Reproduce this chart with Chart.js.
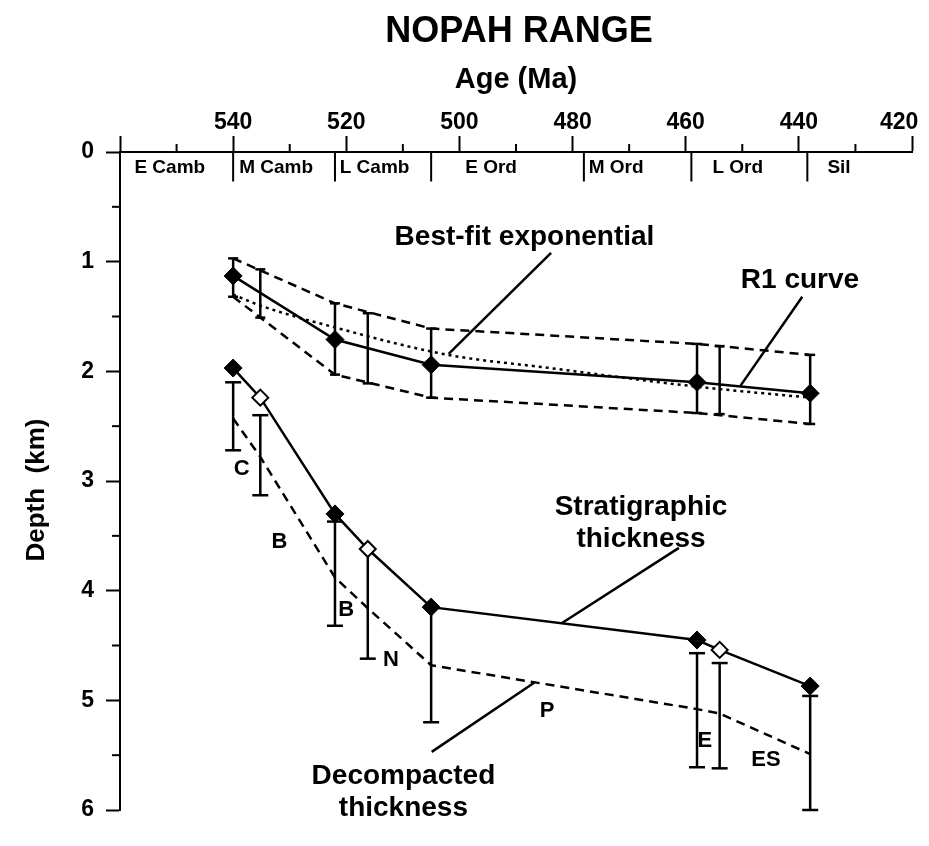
<!DOCTYPE html>
<html><head><meta charset="utf-8">
<script src="https://cdn.jsdelivr.net/npm/chart.js@4.4.1/dist/chart.umd.min.js"></script>
<style>html,body{margin:0;padding:0;background:#fff;} canvas{display:block;}</style>
</head><body>
<canvas id="c" width="929" height="846"></canvas>
<script>
// ---------- data ----------
const sampleAges      = [540, 535.2, 522, 516.2, 505, 458, 454, 438];
const r1Ages          = [540, 522, 505, 458, 438];
const r1Depth         = [1.13, 1.71, 1.94, 2.10, 2.20];
const envTopDepth     = [0.97, 1.38, 1.61, 1.75, 1.85];
const envBottomDepth  = [1.32, 2.03, 2.24, 2.38, 2.48];
const r1BarTop        = [0.97, 1.07, 1.38, 1.47, 1.61, 1.75, 1.77, 1.85];
const r1BarBottom     = [1.32, 1.51, 2.03, 2.11, 2.24, 2.38, 2.39, 2.48];
const bestFitAges     = [540, 535.2, 522, 502, 484, 458, 438];
const bestFitDepth    = [1.30, 1.40, 1.60, 1.85, 1.97, 2.14, 2.24];
const stratDepth      = [1.97, 2.24, 3.30, 3.62, 4.15, 4.45, 4.54, 4.87];
const stratOpen       = [false, true, false, true, false, false, true, false];
const stratBarTop     = [2.10, 2.40, 3.37, 3.66, 4.15, 4.57, 4.66, 4.96];
const stratBarTopCap  = [true, true, true, false, false, true, true, true];
const stratBarBottom  = [2.72, 3.13, 4.32, 4.62, 5.20, 5.61, 5.62, 6.00];
const decompDepth     = [2.43, 2.78, 3.88, 4.16, 4.68, 5.08, 5.12, 5.49];
const periodBounds    = [540, 522, 505, 478, 459, 438.5];
const periodNames     = ['E Camb', 'M Camb', 'L Camb', 'E Ord', 'M Ord', 'L Ord', 'Sil'];
const periodLabelAges = [551.2, 532.4, 515.0, 494.4, 472.3, 450.8, 432.9];
const ageTicks        = [540, 520, 500, 480, 460, 440, 420];
const minorAgeTicks   = [550, 530, 510, 490, 470, 450, 430];
const depthTicks      = [0, 1, 2, 3, 4, 5, 6];
const minorDepthTicks = [0.5, 1.5, 2.5, 3.5, 4.5, 5.5];
const unitLetters     = ['C', 'B', 'B', 'N', 'P', 'E', 'ES'];
const letterAges      = [538.5, 531.8, 520, 512.1, 484.5, 456.6, 445.8];
const letterDepths    = [2.89, 3.56, 4.18, 4.63, 5.10, 5.37, 5.54];
const calloutTexts    = ['Best-fit exponential', 'R1 curve', 'Stratigraphic', 'thickness', 'Decompacted', 'thickness'];
const calloutAges     = [488.5, 439.8, 467.9, 467.9, 509.9, 509.9];
const calloutDepths   = [0.78, 1.17, 3.24, 3.53, 5.69, 5.98];
const leaderAges      = [[501.9, 483.8], [450.3, 439.4], [482.0, 461.2], [504.9, 486.8]];
const leaderDepths    = [[1.84, 0.92], [2.13, 1.32], [4.30, 3.61], [5.47, 4.84]];

const FONT = '"Liberation Sans", Arial, Helvetica, sans-serif';
const pts = (xs, ys) => xs.map((x, i) => ({x: x, y: ys[i]}));

const datasets = [];
datasets.push({label: 'R1 curve', data: pts(r1Ages, r1Depth), showLine: true, borderColor: '#000', borderWidth: 2.5,
  pointStyle: 'rectRot', pointRadius: 9, pointBackgroundColor: '#000', pointBorderColor: '#000', pointBorderWidth: 1, order: 0, clip: false});
datasets.push({label: 'Stratigraphic thickness', data: pts(sampleAges, stratDepth), showLine: true, borderColor: '#000', borderWidth: 2.5,
  pointStyle: 'rectRot', pointRadius: stratOpen.map(o => o ? 8 : 9), pointBackgroundColor: stratOpen.map(o => o ? '#fff' : '#000'),
  pointBorderColor: '#000', pointBorderWidth: stratOpen.map(o => o ? 2 : 1), order: 0, clip: false});
datasets.push({label: 'envelope top', data: pts(r1Ages, envTopDepth), showLine: true, borderColor: '#000', borderWidth: 2.5,
  borderDash: [9, 6], pointRadius: 0, order: 2, clip: false});
datasets.push({label: 'envelope bottom', data: pts(r1Ages, envBottomDepth), showLine: true, borderColor: '#000', borderWidth: 2.5,
  borderDash: [9, 6], pointRadius: 0, order: 2, clip: false});
datasets.push({label: 'Best-fit exponential', data: pts(bestFitAges, bestFitDepth), showLine: true, borderColor: '#000', borderWidth: 2.5,
  borderDash: [3, 4], pointRadius: 0, cubicInterpolationMode: 'monotone', order: 2, clip: false});
datasets.push({label: 'Decompacted thickness', data: pts(sampleAges, decompDepth), showLine: true, borderColor: '#000', borderWidth: 2.5,
  borderDash: [9, 6], pointRadius: 0, order: 2, clip: false});
sampleAges.forEach((a, i) => {
  datasets.push({label: 'r1 bar', data: [{x: a, y: r1BarTop[i]}, {x: a, y: r1BarBottom[i]}], showLine: true,
    borderColor: '#000', borderWidth: 2.5, pointStyle: 'line', pointRadius: 5, pointBorderWidth: 2.5, pointBorderColor: '#000', order: 1, clip: false});
  datasets.push({label: 'strat bar', data: [{x: a, y: stratBarTop[i]}, {x: a, y: stratBarBottom[i]}], showLine: true,
    borderColor: '#000', borderWidth: 2.5, pointStyle: 'line', pointRadius: [stratBarTopCap[i] ? 8 : 0, 8], pointBorderWidth: 2.5,
    pointBorderColor: '#000', order: 1, clip: false});
});
periodBounds.forEach(b => {
  datasets.push({label: 'bound', data: [{x: b, y: 0}, {x: b, y: 0.27}], showLine: true, borderColor: '#000', borderWidth: 2,
    pointRadius: 0, order: 3, clip: false});
});
leaderAges.forEach((la, i) => {
  datasets.push({label: 'leader', data: pts(la, leaderDepths[i]), showLine: true, borderColor: '#000', borderWidth: 2.5,
    pointRadius: 0, order: 3, clip: false});
});

const decor = {
  id: 'decor',
  afterDraw(chart) {
    const ctx = chart.ctx, xs = chart.scales.x, ys = chart.scales.y, ca = chart.chartArea;
    ctx.save();
    ctx.strokeStyle = '#000'; ctx.lineWidth = 2;
    minorAgeTicks.forEach(v => { const p = xs.getPixelForValue(v); ctx.beginPath(); ctx.moveTo(p, ca.top); ctx.lineTo(p, ca.top - 8); ctx.stroke(); });
    minorDepthTicks.forEach(v => { const p = ys.getPixelForValue(v); ctx.beginPath(); ctx.moveTo(ca.left, p); ctx.lineTo(ca.left - 8, p); ctx.stroke(); });
    ctx.fillStyle = '#000';
    ctx.textAlign = 'center'; ctx.textBaseline = 'middle';
    ctx.font = 'bold 36px ' + FONT;
    ctx.fillText('NOPAH RANGE', (ca.left + ca.right) / 2 + 3, 32);
    ctx.font = 'bold 19px ' + FONT;
    periodNames.forEach((n, i) => ctx.fillText(n, xs.getPixelForValue(periodLabelAges[i]), ys.getPixelForValue(0.14)));
    ctx.font = 'bold 28px ' + FONT;
    calloutTexts.forEach((t, i) => ctx.fillText(t, xs.getPixelForValue(calloutAges[i]), ys.getPixelForValue(calloutDepths[i])));
    ctx.font = 'bold 22px ' + FONT;
    unitLetters.forEach((t, i) => ctx.fillText(t, xs.getPixelForValue(letterAges[i]), ys.getPixelForValue(letterDepths[i])));
    ctx.save();
    ctx.translate(37, (ca.top + ca.bottom) / 2 + 9);
    ctx.rotate(-Math.PI / 2);
    ctx.font = 'bold 26px ' + FONT;
    ctx.fillText('Depth  (km)', 0, 0);
    ctx.restore();
    ctx.restore();
  }
};

new Chart(document.getElementById('c'), {
  type: 'scatter',
  data: {datasets: datasets},
  options: {
    responsive: false, animation: false, events: [],
    layout: {padding: {left: 0, top: 0, right: 17, bottom: 36}},
    plugins: {legend: {display: false}, tooltip: {enabled: false}, title: {display: false}},
    scales: {
      x: {
        type: 'linear', position: 'top', min: 420, max: 560, reverse: true,
        ticks: {stepSize: 10, autoSkip: false, maxRotation: 0, color: '#000', padding: 0,
          font: {family: FONT, size: 23, weight: 'bold'},
          callback: v => v === 420 ? '420    ' : (ageTicks.includes(v) ? String(v) : '')},
        grid: {drawOnChartArea: false, drawTicks: true, tickLength: 16, tickWidth: 2,
          tickColor: c => (c.tick && ageTicks.concat([560]).includes(c.tick.value)) ? '#000' : 'rgba(0,0,0,0)'},
        border: {display: true, width: 2, color: '#000'},
        title: {display: true, text: 'Age (Ma)', color: '#000', font: {family: FONT, size: 29, weight: 'bold'}, padding: {top: 63, bottom: 0}},
        afterFit: s => { s.height = 152; s.paddingLeft = 0; s.paddingRight = 0; }
      },
      y: {
        type: 'linear', position: 'left', min: 0, max: 6, reverse: true,
        ticks: {stepSize: 0.5, autoSkip: false, color: '#000', padding: 12,
          font: {family: FONT, size: 23, weight: 'bold'},
          callback: v => depthTicks.includes(v) ? String(v) : ''},
        grid: {drawOnChartArea: false, drawTicks: true, tickLength: 14, tickWidth: 2,
          tickColor: c => (c.tick && depthTicks.includes(c.tick.value)) ? '#000' : 'rgba(0,0,0,0)'},
        border: {display: true, width: 2, color: '#000'},
        title: {display: false},
        afterFit: s => { s.width = 120; s.paddingTop = 0; s.paddingBottom = 0; }
      }
    }
  },
  plugins: [decor]
});
</script>
</body></html>
